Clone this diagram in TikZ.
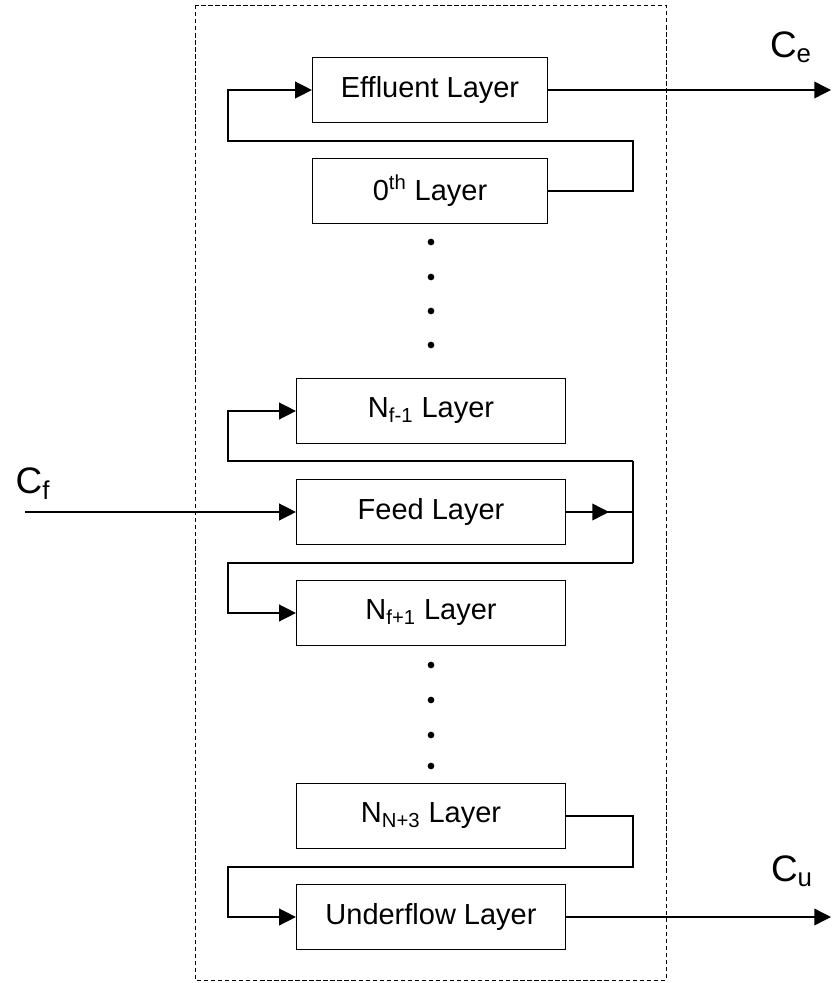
\documentclass[tikz,border=0pt]{standalone}
\usepackage{fontspec}
\setmainfont{Liberation Sans}
\usetikzlibrary{arrows.meta}

\begin{document}
\begin{tikzpicture}[x=0.02cm,y=-0.02cm, line width=0.8pt,
  >={Triangle[length=9.5pt,width=9.5pt]},
  layer/.style={draw, line width=0.7pt, minimum width=5.38cm, minimum height=1.3cm, inner sep=0pt, font=\fontsize{16.5}{19}\selectfont},
  stream/.style={font=\fontsize{21}{24}\selectfont}]
\useasboundingbox (0,0) rectangle (832,983);
%column
\draw[line width=0.5pt, dash pattern=on 2.5pt off 1.5pt] (195,5) rectangle (666,980);
%layers
\node[layer, minimum width=4.7cm] (eff) at (430,90) {Effluent Layer};
\node[layer, minimum width=4.7cm] (zero) at (430,191) {0\textsuperscript{th} Layer};
\node[layer] (nfm) at (431,411) {N\textsubscript{f-1} Layer};
\node[layer] (feed) at (431,512) {Feed Layer};
\node[layer] (nfp) at (431,613) {N\textsubscript{f+1} Layer};
\node[layer] (nn3) at (431,816) {N\textsubscript{N+3} Layer};
\node[layer] (under) at (431,917) {Underflow Layer};
%dots
\foreach \y in {242,277,311,345,665,700,735,766}
  \fill (431,\y) circle (1.9pt);
%streams
\node[stream] (ce) at (791,47) {C\textsubscript{e}};
\node[stream] (cf) at (33,484) {C\textsubscript{f}};
\node[stream] (cu) at (792,871) {C\textsubscript{u}};
\coordinate (eout) at (831,90);
\coordinate (fin) at (25,512);
\coordinate (uout) at (831,917);
\draw[->] (eff.east) -- (eout);
\draw[->] (fin) -- (feed.west);
\draw[->] (under.east) -- (uout);
%top loop
\coordinate (r1) at (633,141);
\coordinate (l1) at (228,141);
\draw[->] (zero.east) -| (r1) -- (l1) |- (eff.west);
%feed loop
\coordinate (fmid) at (609,512);
\coordinate (fj) at (633,512);
\coordinate (ftop) at (633,461);
\coordinate (fbot) at (633,563);
\coordinate (ltop) at (228,461);
\coordinate (lbot) at (228,563);
\draw (feed.east) -- (fj);
\draw[->] (feed.east) -- (fmid);
\draw (ftop) -- (fbot);
\draw[->] (ftop) -- (ltop) |- (nfm.west);
\draw[->] (fbot) -- (lbot) |- (nfp.west);
%bottom loop
\coordinate (r3) at (633,867);
\coordinate (l3) at (228,867);
\draw[->] (nn3.east) -| (r3) -- (l3) |- (under.west);
\end{tikzpicture}
\end{document}
